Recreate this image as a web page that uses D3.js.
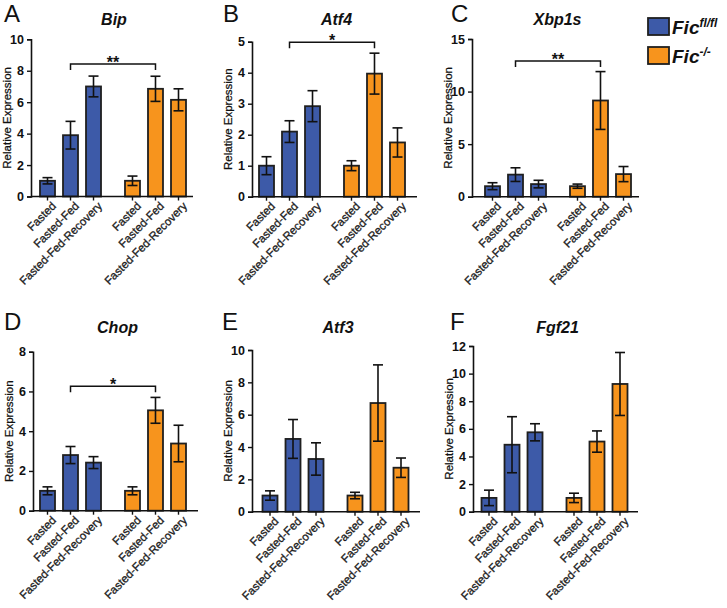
<!DOCTYPE html>
<meta charset="utf-8">
<style>
  body { margin: 0; background: #fff; }
  text { font-family: Arial, "Liberation Sans", Helvetica, sans-serif; }
</style>
<body>
<script src="https://cdn.jsdelivr.net/npm/d3@7"></script>
<script>

// data
var genes = ["Bip", "Atf4", "Xbp1s", "Chop", "Atf3", "Fgf21"];
var panelLetters = ["A", "B", "C", "D", "E", "F"];
var conditions = ["Fasted", "Fasted-Fed", "Fasted-Fed-Recovery"];
var genotypes = ["fl/fl", "-/-"];

var flMeans  = [[1.0, 3.9, 7.0], [1.0, 2.1, 2.92], [1.0, 2.1, 1.2], [1.0, 2.8, 2.42], [1.0, 4.5, 3.26], [1.0, 4.85, 5.75]];
var flErrors = [[0.2, 0.88, 0.66], [0.29, 0.35, 0.5], [0.33, 0.65, 0.36], [0.2, 0.43, 0.3], [0.29, 1.2, 1.0], [0.56, 2.03, 0.62]];
var koMeans  = [[1.0, 6.85, 6.15], [1.0, 3.97, 1.75], [1.0, 9.15, 2.15], [1.0, 5.05, 3.38], [1.0, 6.72, 2.72], [1.0, 5.08, 9.25]];
var koErrors = [[0.3, 0.8, 0.7], [0.16, 0.66, 0.47], [0.2, 2.75, 0.72], [0.2, 0.65, 0.92], [0.2, 2.36, 0.6], [0.34, 0.77, 2.28]];

var yMax = [10, 5, 15, 8, 10, 12];
var yStep = [2, 1, 5, 2, 2, 2];
var sigStars = ["**", "*", "**", "*", "", ""];
var sigLevel = [8.43, 4.98, 12.9, 6.26, null, null];

var colors = {"fl/fl": "#3d5aa8", "-/-": "#f7941d"};

// panel frames (axis origin, size)
var frames = [
  {x: 31,  y: 39.3,  w: 162, h: 157.2, pad: 5,   titleY: 25,  letterX: 4,   letterY: 22},
  {x: 252, y: 41.7,  w: 165, h: 155,   pad: 3,   titleY: 25,  letterX: 223, letterY: 22},
  {x: 472, y: 39,    w: 167, h: 157.7, pad: 9,   titleY: 25,  letterX: 451, letterY: 22},
  {x: 33,  y: 351.7, w: 165, h: 159,   pad: 3,   titleY: 333, letterX: 4,   letterY: 330},
  {x: 252, y: 350,   w: 168, h: 161.7, pad: 6.5, titleY: 333, letterX: 222, letterY: 330},
  {x: 473, y: 346,   w: 165, h: 165.7, pad: 4.5, titleY: 333, letterX: 450, letterY: 330}
];

var width = 727, height = 608;

var svg = d3.select("body").append("svg")
    .attr("width", width)
    .attr("height", height);

genes.forEach(function(gene, i) {
  var f = frames[i];
  var g = svg.append("g").attr("transform", "translate(" + f.x + "," + f.y + ")");

  var rows = [];
  genotypes.forEach(function(gt, k) {
    var means = k === 0 ? flMeans[i] : koMeans[i];
    var errs = k === 0 ? flErrors[i] : koErrors[i];
    conditions.forEach(function(c, j) {
      rows.push({genotype: gt, condition: c, mean: means[j], err: errs[j]});
    });
  });

  var x0 = d3.scaleBand().domain(genotypes)
      .range([f.pad, f.pad + 154])
      .paddingInner(0.188);
  var x1 = d3.scaleBand().domain(conditions)
      .range([0, x0.bandwidth()])
      .paddingInner(0.348).paddingOuter(0.174);
  var y = d3.scaleLinear().domain([0, yMax[i]]).range([f.h, 0]);

  var cx = function(d) { return x0(d.genotype) + x1(d.condition) + x1.bandwidth() / 2; };

  // bars
  g.selectAll("rect.bar").data(rows).enter().append("rect")
      .attr("class", "bar")
      .attr("x", function(d) { return x0(d.genotype) + x1(d.condition); })
      .attr("y", function(d) { return y(d.mean); })
      .attr("width", x1.bandwidth())
      .attr("height", function(d) { return f.h - y(d.mean); })
      .attr("fill", function(d) { return colors[d.genotype]; })
      .attr("stroke", "#1f1f1f")
      .attr("stroke-width", 1.8);

  // error bars
  var eb = g.selectAll("g.err").data(rows).enter().append("g")
      .attr("stroke", "#111").attr("stroke-width", 1.6);
  eb.append("line")
      .attr("x1", cx).attr("x2", cx)
      .attr("y1", function(d) { return y(d.mean + d.err); })
      .attr("y2", function(d) { return y(d.mean - d.err); });
  eb.append("line")
      .attr("x1", function(d) { return cx(d) - 5; }).attr("x2", function(d) { return cx(d) + 5; })
      .attr("y1", function(d) { return y(d.mean + d.err); })
      .attr("y2", function(d) { return y(d.mean + d.err); });
  eb.append("line")
      .attr("x1", function(d) { return cx(d) - 5; }).attr("x2", function(d) { return cx(d) + 5; })
      .attr("y1", function(d) { return y(d.mean - d.err); })
      .attr("y2", function(d) { return y(d.mean - d.err); });

  // y axis
  var yAxis = g.append("g")
      .call(d3.axisLeft(y)
        .tickValues(d3.range(0, yMax[i] + 0.001, yStep[i]))
        .tickFormat(d3.format("d"))
        .tickSize(4).tickPadding(3));
  yAxis.select(".domain").attr("stroke", "#111").attr("stroke-width", 1.6);
  yAxis.selectAll(".tick line").attr("stroke", "#111").attr("stroke-width", 1.4);
  yAxis.selectAll(".tick text")
      .attr("fill", "#111").style("font-size", "12.5px").style("font-weight", "bold");

  // x axis
  var xAxis = g.append("g").attr("transform", "translate(0," + f.h + ")");
  xAxis.append("line")
      .attr("x1", 0).attr("x2", f.w).attr("y1", 0).attr("y2", 0)
      .attr("stroke", "#111").attr("stroke-width", 1.6);
  xAxis.selectAll("line.xt").data(rows).enter().append("line")
      .attr("x1", cx).attr("x2", cx).attr("y1", 0).attr("y2", 4)
      .attr("stroke", "#111").attr("stroke-width", 1.4);
  xAxis.selectAll("text").data(rows).enter().append("text")
      .attr("transform", function(d) { return "translate(" + (cx(d) + 4) + ",5) rotate(-45)"; })
      .attr("text-anchor", "end")
      .attr("dy", "0.65em")
      .style("font-size", "11.5px")
      .attr("fill", "#1a1a1a")
      .attr("stroke", "#1a1a1a").attr("stroke-width", 0.3)
      .text(function(d) { return d.condition; });

  // y label
  g.append("text")
      .attr("transform", "translate(" + (-20) + "," + (f.h / 2) + ") rotate(-90)")
      .attr("text-anchor", "middle")
      .style("font-size", "11.5px")
      .attr("fill", "#111")
      .attr("stroke", "#111").attr("stroke-width", 0.25)
      .text("Relative Expression");

  // title
  svg.append("text")
      .attr("x", f.x + f.w / 2 + 2).attr("y", f.titleY)
      .attr("text-anchor", "middle")
      .style("font-size", "16px").style("font-weight", "bold").style("font-style", "italic")
      .attr("fill", "#111")
      .text(gene);

  // panel letter
  svg.append("text")
      .attr("x", f.letterX).attr("y", f.letterY)
      .style("font-size", "24px")
      .attr("fill", "#111")
      .text(panelLetters[i]);

  // significance bracket
  if (sigLevel[i] != null) {
    var a = cx(rows[1]), b = cx(rows[4]), by = y(sigLevel[i]);
    g.append("path")
        .attr("d", "M" + a + "," + (by + 6) + "V" + by + "H" + b + "V" + (by + 6))
        .attr("fill", "none").attr("stroke", "#111").attr("stroke-width", 1.5);
    g.append("text")
        .attr("x", (a + b) / 2).attr("y", by + 4)
        .attr("text-anchor", "middle")
        .style("font-size", "16px").style("font-weight", "bold")
        .attr("fill", "#111")
        .text(sigStars[i]);
  }
});

// legend
var legend = svg.append("g");
var supers = ["fl/fl", "-/-"];
genotypes.forEach(function(gt, k) {
  var ly = 18 + k * 29;
  legend.append("rect")
      .attr("x", 648).attr("y", ly).attr("width", 21).attr("height", 17)
      .attr("fill", colors[gt]).attr("stroke", "#1f1f1f").attr("stroke-width", 1.8);
  var t = legend.append("text")
      .attr("x", 672).attr("y", ly + 16)
      .style("font-size", "19px").style("font-weight", "bold").style("font-style", "italic")
      .attr("fill", "#111");
  t.append("tspan").text("Fic");
  t.append("tspan").attr("dy", -7).style("font-size", "12px").text(supers[k]);
});

</script>
</body>
